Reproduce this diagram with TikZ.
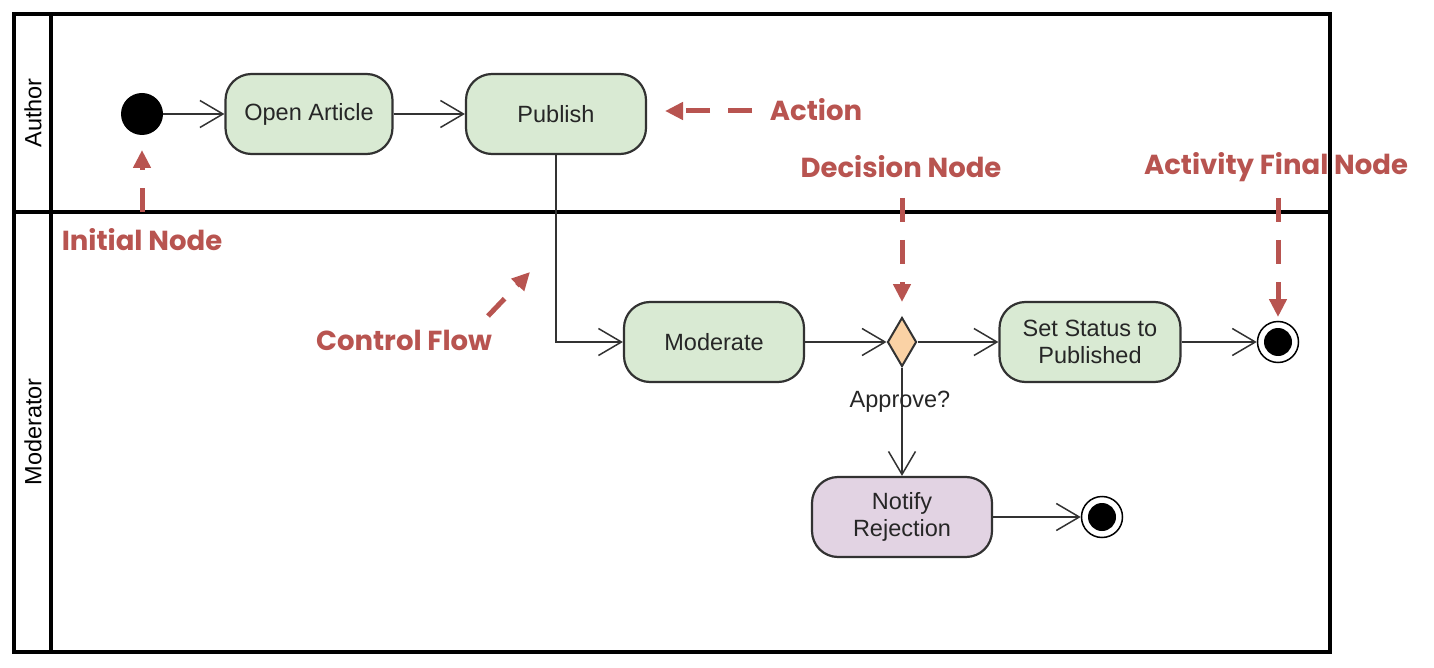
\documentclass[tikz,border=0pt]{standalone}
\usepackage{fontspec}
\setmainfont{Liberation Sans}
\newfontfamily\notefont{Poppins}
\usetikzlibrary{arrows.meta,shapes.geometric}
\definecolor{actfill}{RGB}{217,234,211}
\definecolor{rejfill}{RGB}{226,211,227}
\definecolor{decfill}{RGB}{250,210,165}
\definecolor{notered}{RGB}{184,84,80}
\definecolor{edgegray}{RGB}{50,50,50}
\tikzset{
  action/.style={draw=edgegray, fill=actfill, line width=2.2pt, rounded corners=26pt,
    minimum width=180pt, minimum height=80pt, align=center,
    font=\fontsize{23.5}{27}\selectfont, text=black!85},
  flow/.style={draw=edgegray, line width=1.5pt,
    -{Straight Barb[length=23pt,width=27pt,line width=1.5pt]}},
  initnode/.style={circle, fill=black, minimum size=42pt, inner sep=0pt},
  finalnode/.style={circle, draw=black, line width=1.5pt, minimum size=41pt, inner sep=0pt,
    path picture={\fill (path picture bounding box.center) circle (14pt);}},
  decision/.style={diamond, draw=edgegray, fill=decfill, line width=2pt,
    minimum width=29pt, minimum height=49pt, inner sep=0pt},
  note/.style={text=notered, font=\notefont\bfseries\fontsize{27.5}{31}\selectfont},
  pointer/.style={draw=notered, line width=5pt, dash pattern=on 24pt off 18pt,
    -{Triangle[length=18pt,width=17pt]}},
  lane/.style={line width=3.5pt}
}
\begin{document}
\begin{tikzpicture}[x=1pt,y=-1pt]
  \useasboundingbox (0,0) rectangle (1434,668);
  % swimlanes
  \draw[lane] (14,14) rectangle (1330,652);
  \draw[lane] (51,14) -- (51,652);
  \draw[lane] (14,212) -- (1330,212);
  \node[rotate=90, font=\fontsize{23.5}{27}\selectfont] (author) at (33,113) {Author};
  \node[rotate=90, font=\fontsize{23.5}{27}\selectfont] (moderator) at (33,432) {Moderator};
  % activity nodes
  \node[initnode] (init) at (142,114) {};
  \node[action, minimum width=167pt] (open) at (309,114) {Open Article};
  \node[action] (publish) at (556,114) {Publish};
  \node[action] (moderate) at (714,342) {Moderate};
  \node[decision] (approve) at (902,342) {};
  \node[action, minimum width=181pt] (setstatus) at (1090,342) {Set Status to\\Published};
  \node[finalnode] (final) at (1278,342) {};
  \node[action, fill=rejfill] (notify) at (902,517) {Notify\\Rejection};
  \node[finalnode] (final2) at (1102,517) {};
  % control flows
  \begin{scope}[flow]
    \draw (init) to (open);
    \draw (open) to (publish);
    \draw (publish.south) |- (moderate.west);
    \draw (moderate) to (approve);
    \draw (approve) to (setstatus);
    \draw (setstatus) to (final);
    \draw (approve) to (notify);
    \draw (notify) to (final2);
  \end{scope}
  \node[font=\fontsize{23.5}{27}\selectfont, text=black!85] (guard) at (900,402) {Approve?};
  % annotations
  \node[note] (actionnote) at (816,110) {Action};
  \node[note] (decisionnote) at (901,167) {Decision Node};
  \node[note] (finalnote) at (1276,167) {Activity Final Node};
  \node[note] (initnote) at (142,240) {Initial Node};
  \node[note] (flownote) at (404,340) {Control Flow};
  \coordinate (actiontail) at (752,111);
  \coordinate (actiontip) at (665,111);
  \coordinate (inittail) at (142,212);
  \coordinate (inittip) at (142,150);
  \coordinate (decisiontail) at (902,198);
  \coordinate (decisiontip) at (902,302);
  \coordinate (finaltail) at (1278,198);
  \coordinate (finaltip) at (1278,317);
  \coordinate (flowtail) at (488,316);
  \coordinate (flowtip) at (530,272);
  \begin{scope}[pointer]
    \draw (actiontail) -- (actiontip);
    \draw (inittail) -- (inittip);
    \draw (decisiontail) -- (decisiontip);
    \draw (finaltail) -- (finaltip);
    \draw (flowtail) -- (flowtip);
  \end{scope}
\end{tikzpicture}
\end{document}
